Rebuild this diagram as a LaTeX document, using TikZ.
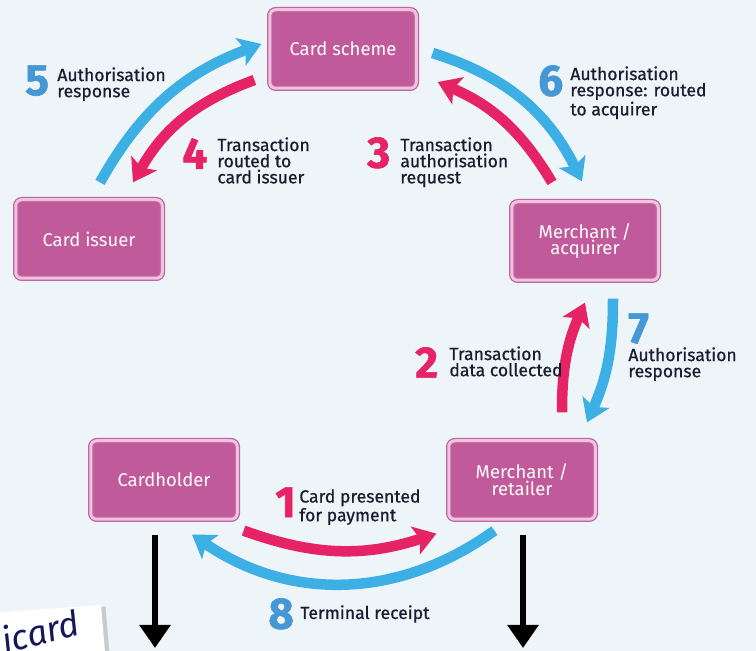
\documentclass[tikz,border=0pt]{standalone}
\usepackage{fontspec}
\setmainfont{Fira Sans}[BoldFeatures={FakeBold=1.5}]
\newfontfamily\labelfont{Fira Sans}[FakeBold=0.7]
\usetikzlibrary{arrows.meta,shadows}

\definecolor{paper}{RGB}{238,245,248}
\definecolor{boxfill}{RGB}{192,90,155}
\definecolor{boxband}{RGB}{246,192,226}
\definecolor{boxedge}{RGB}{185,105,155}
\definecolor{payred}{RGB}{230,35,100}
\definecolor{payblue}{RGB}{60,175,228}
\definecolor{numblue}{RGB}{70,152,212}
\definecolor{ink}{RGB}{28,28,48}

\tikzset{
  party/.style={draw=boxedge, line width=0.025cm, double=boxband,
    double distance=0.06cm, fill=boxfill, rounded corners=0.12cm,
    minimum width=2.93cm, minimum height=1.57cm, text=white,
    align=center, font=\fontsize{10.5}{9.5}\selectfont},
  flow/.style={line width=0.21cm,
    -{Stealth[length=0.44cm,width=0.58cm,inset=0.1cm]}},
  redflow/.style={flow, draw=payred},
  blueflow/.style={flow, draw=payblue},
  outflow/.style={line width=0.13cm, draw=black,
    -{Triangle[length=0.46cm,width=0.6cm]}},
  stepnum/.style={inner sep=0, anchor=north west,
    font=\fontsize{25}{25}\selectfont\bfseries},
  steptext/.style={inner sep=0, anchor=north west, align=left,
    text=ink, font=\labelfont\fontsize{10}{9.2}\selectfont},
}

\begin{document}
\begin{tikzpicture}
    \useasboundingbox[fill=paper] (0,0) rectangle (15.12,13.02);

    % card photo in the corner
    \fill[white, drop shadow={shadow xshift=0.09cm, shadow yshift=-0.03cm, opacity=0.35}]
      (-0.5,0.74) -- (2.02,0.92) -- (2.14,-0.5) -- (-0.5,-0.5) -- cycle;
    \node[rotate=14, text=ink!80!blue, font=\fontsize{20}{20}\selectfont\itshape]
      (cardword) at (0.80,0.40) {icard};

    % the five parties
    \node[party] at (6.86,12.04) (CSc) {Card scheme};
    \node[party] at (1.78,8.24) (CIs) {Card issuer};
    \node[party] at (11.70,8.20) (CAc) {Merchant /\\acquirer};
    \node[party] at (3.28,3.42) (CHo) {Cardholder};
    \node[party] at (10.44,3.42) (CRe) {Merchant /\\retailer};

    \coordinate (holderOut) at (3.10,0.06);
    \coordinate (retailerOut) at (10.46,0.06);

    % message flows
    \draw[redflow] ([shift={(0.115,-0.215)}]CHo.south east) to[bend right=19] ([shift={(-0.235,-0.275)}]CRe.south west);
    \draw[redflow] ([shift={(0.80,0.555)}]CRe.north) to[bend left=12] ([shift={(0,-0.435)}]CAc.south);
    \draw[redflow] ([shift={(-0.66,0.375)}]CAc.north) to[bend right=18] ([shift={(0.415,-0.66)}]CSc.east);
    \draw[redflow] ([shift={(-0.295,-0.62)}]CSc.west) to[bend right=20] ([shift={(0.88,0.335)}]CIs.north);
    \draw[blueflow] ([shift={(0.22,0.335)}]CIs.north) to[bend left=20] ([shift={(-0.155,0.10)}]CSc.west);
    \draw[blueflow] ([shift={(0.315,-0.08)}]CSc.east) to[bend left=23] ([shift={(-0.06,0.395)}]CAc.north);
    \draw[blueflow] ([shift={(0.56,-0.355)}]CAc.south) to[bend left=12] ([shift={(1.30,0.355)}]CRe.north);
    \draw[blueflow] ([shift={(0.925,-0.215)}]CRe.south west) to[bend left=35] ([shift={(0.56,-0.295)}]CHo.south);

    \draw[outflow] ([shift={(-0.18,-0.30)}]CHo.south) to (holderOut);
    \draw[outflow] ([shift={(0.02,-0.30)}]CRe.south) to (retailerOut);

    % step numbers and captions
    \node[stepnum, text=payred] at (5.50,3.28) (n1) {1};
    \node[steptext] at (5.98,3.24) (t1) {Card presented\\for payment};
    \node[stepnum, text=payred] at (8.30,6.08) (n2) {2};
    \node[steptext] at (8.98,6.10) (t2) {Transaction\\data collected};
    \node[stepnum, text=payred] at (7.34,10.28) (n3) {3};
    \node[steptext] at (8.00,10.28) (t3) {Transaction\\authorisation\\request};
    \node[stepnum, text=payred] at (3.64,10.26) (n4) {4};
    \node[steptext] at (4.34,10.28) (t4) {Transaction\\routed to\\card issuer};
    \node[stepnum, text=numblue] at (0.50,11.72) (n5) {5};
    \node[steptext] at (1.14,11.68) (t5) {Authorisation\\response};
    \node[stepnum, text=numblue] at (10.76,11.72) (n6) {6};
    \node[steptext] at (11.40,11.70) (t6) {Authorisation\\response: routed\\to acquirer};
    \node[stepnum, text=numblue] at (12.56,6.76) (n7) {7};
    \node[steptext] at (12.56,6.08) (t7) {Authorisation\\response};
    \node[stepnum, text=numblue] at (5.36,1.06) (n8) {8};
    \node[steptext, anchor=west] at (6.00,0.74) (t8) {Terminal receipt};
\end{tikzpicture}
\end{document}
